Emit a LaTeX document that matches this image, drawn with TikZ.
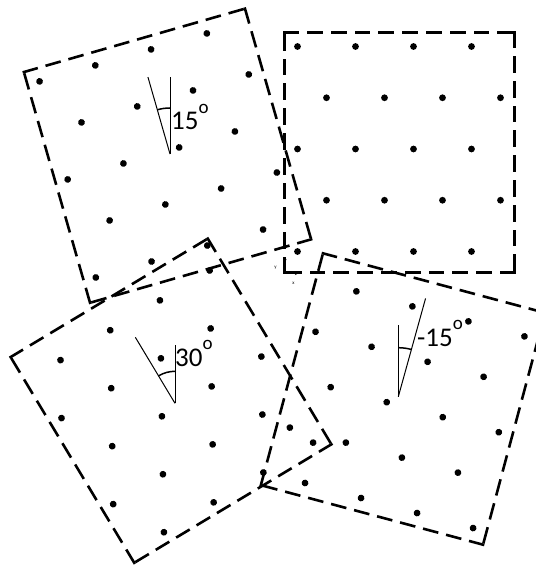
\documentclass[tikz,border=0pt]{standalone}
\usepackage{fontspec}
\setmainfont{Carlito}
\usepackage{tikz}
\usetikzlibrary{arrows.meta}
\tikzset{
  frame/.style={line width=2.6pt,line cap=rect},
  wdash/.style={frame,dash pattern=on 13.2pt off 10.6pt},
  hdash/.style={frame,dash pattern=on 14.2pt off 10.6pt},
  latticedot/.style={fill=black},
  refline/.style={line width=1pt},
  anglearc/.style={line width=1.5pt},
  anglelabel/.style={font=\fontsize{27}{29}\selectfont,inner sep=0pt,anchor=base west},
  axisarrow/.style={line width=1.2pt,-{Stealth[length=3pt,width=3pt]}},
  axislabel/.style={font=\fontsize{5}{6}\selectfont,inner sep=0pt}
}
\newcommand{\degmark}{\raisebox{16.5pt}{\fontsize{19}{19}\selectfont o}}
% centre x, centre y, angle, first x, row shift sign, middle row y, row step
\newcommand{\latticesquare}[7]{%
  \begin{scope}[shift={(#1,#2)},rotate=#3]
    \draw[wdash] (-115,-120) -- (115,-120);
    \draw[hdash] (115,-120) -- (115,120);
    \draw[wdash] (115,120) -- (-115,120);
    \draw[hdash] (-115,120) -- (-115,-120);
    \foreach \j in {0,...,4}
      \foreach \i in {0,...,3}
        \fill[latticedot] ({#4+58*\i+#5*29*mod(\j,2)},{#6+(\j-2)*#7}) circle (3.4pt);
  \end{scope}}
% vertex x, vertex y, upright length, tilted length, angle, arc radius
\newcommand{\anglemark}[6]{%
  \begin{scope}[shift={(#1,#2)},y=1pt]
    \draw[refline] (0,0) -- (0,#3);
    \draw[refline] (0,0) -- (90+#5:#4);
    \draw[anglearc] (90:#6) arc[start angle=90,end angle=90+#5,radius=#6];
  \end{scope}}

\begin{document}
\begin{tikzpicture}[x=1pt,y=-1pt]
  \useasboundingbox (0,0) rectangle (535,569);

  \latticesquare{399.5}{152.5}{0}{-102}{1}{-3.5}{51.25}
  \latticesquare{167.5}{155.7}{16}{-102.5}{1}{-4.7}{51}
  \latticesquare{171}{400.7}{31}{-73.8}{-1}{8.7}{50.2}
  \latticesquare{403}{399}{-15}{-72.9}{-1}{7.3}{49.6}

  \anglemark{170}{154}{77}{80}{16}{46}
  \anglemark{175}{403.3}{58}{77}{31}{32}
  \anglemark{398.3}{396.7}{72}{102}{-15.5}{49}

  \node[anglelabel] (deg15) at (171,130) {15\degmark};
  \node[anglelabel] (deg30) at (175,366) {30\degmark};
  \node[anglelabel] (degm15) at (417,346) {-15\degmark};

  % small axes at the corner of the upright square
  \coordinate (origin) at (285,273.5);
  \coordinate (yend) at (285,257);
  \coordinate (xend) at (298,273.5);
  \draw[axisarrow] (origin) -- (yend);
  \draw[axisarrow] (origin) -- (xend);
  \node[axislabel] (ylabel) at (275.5,268) {y};
  \node[axislabel] (xlabel) at (293.5,283) {x};
\end{tikzpicture}
\end{document}
